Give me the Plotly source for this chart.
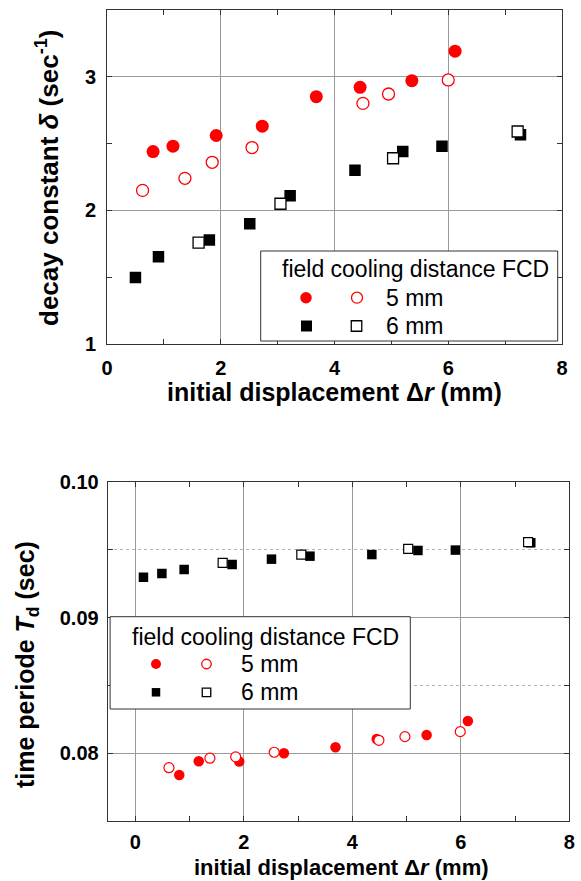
import plotly.graph_objects as go

# ---------------- data ----------------
# top panel: decay constant delta (1/s) vs initial displacement (mm)
x5_filled_top = [0.81, 1.16, 1.92, 2.73, 3.68, 4.45, 5.36, 6.12]
d5_filled = [2.44, 2.48, 2.56, 2.63, 2.85, 2.92, 2.97, 3.19]
x5_open_top = [0.625, 1.37, 1.85, 2.55, 4.50, 4.95, 6.00]
d5_open = [2.15, 2.24, 2.36, 2.47, 2.80, 2.87, 2.975]
x6_filled_top = [0.50, 0.905, 1.80, 2.51, 3.22, 4.36, 5.20, 5.89, 7.27]
d6_filled = [1.50, 1.655, 1.78, 1.90, 2.11, 2.30, 2.44, 2.48, 2.565]
x6_open_top = [1.61, 3.05, 5.03, 7.22]
d6_open = [1.76, 2.05, 2.39, 2.59]

# bottom panel: time period T_d (s) vs initial displacement (mm)
x6_filled_bot = [0.15, 0.49, 0.90, 1.785, 2.51, 3.22, 4.36, 5.21, 5.90, 7.29]
t6_filled = [0.09297, 0.09326, 0.09354, 0.09391, 0.09431, 0.09453, 0.09465, 0.09495, 0.09498, 0.09552]
x6_open_bot = [1.61, 3.06, 5.03, 7.24]
t6_open = [0.09403, 0.09465, 0.09507, 0.09557]
x5_filled_bot = [0.81, 1.17, 1.915, 2.74, 3.69, 4.45, 5.37, 6.13]
t5_filled = [0.07839, 0.07941, 0.07939, 0.0800, 0.08044, 0.08105, 0.08134, 0.08237]
x5_open_bot = [0.62, 1.375, 1.85, 2.56, 4.49, 4.97, 5.99]
t5_open = [0.07893, 0.07963, 0.07973, 0.08007, 0.08095, 0.08122, 0.08159]

x_ticks = [0, 2, 4, 6, 8]
top_y_ticks = [1, 2, 3]
bot_y_ticks = [0.08, 0.09, 0.10]
legend_title = "field cooling distance FCD"
legend_labels = ["5 mm", "6 mm"]

# ---------------- layout helpers ----------------
W, H = 581, 881
FONT = "Liberation Sans"
RED = "#ff0000"
BLACK = "#000000"
AXC = "#333333"
GRIDC = "#9a9a9a"


def px(x):
    return x / W


def py(y):
    return 1 - y / H


fig = go.Figure()

# top panel traces
fig.add_trace(go.Scatter(x=x5_filled_top, y=d5_filled, mode="markers", xaxis="x", yaxis="y",
                         marker=dict(symbol="circle", size=13, color=RED, line=dict(width=0))))
fig.add_trace(go.Scatter(x=x5_open_top, y=d5_open, mode="markers", xaxis="x", yaxis="y",
                         marker=dict(symbol="circle", size=12, color="white", line=dict(width=1.3, color=RED))))
fig.add_trace(go.Scatter(x=x6_filled_top, y=d6_filled, mode="markers", xaxis="x", yaxis="y",
                         marker=dict(symbol="square", size=11.5, color=BLACK, line=dict(width=0))))
fig.add_trace(go.Scatter(x=x6_open_top, y=d6_open, mode="markers", xaxis="x", yaxis="y",
                         marker=dict(symbol="square", size=11, color="white", line=dict(width=1.3, color=BLACK))))

# bottom panel traces
fig.add_trace(go.Scatter(x=x6_filled_bot, y=t6_filled, mode="markers", xaxis="x2", yaxis="y2",
                         marker=dict(symbol="square", size=9.5, color=BLACK, line=dict(width=0))))
fig.add_trace(go.Scatter(x=x6_open_bot, y=t6_open, mode="markers", xaxis="x2", yaxis="y2",
                         marker=dict(symbol="square", size=9, color="white", line=dict(width=1.2, color=BLACK))))
fig.add_trace(go.Scatter(x=x5_filled_bot, y=t5_filled, mode="markers", xaxis="x2", yaxis="y2",
                         marker=dict(symbol="circle", size=10.5, color=RED, line=dict(width=0))))
fig.add_trace(go.Scatter(x=x5_open_bot, y=t5_open, mode="markers", xaxis="x2", yaxis="y2",
                         marker=dict(symbol="circle", size=10, color="white", line=dict(width=1.2, color=RED))))

tickfont = dict(family=FONT, size=20, color="black", weight="bold")

common_axis = dict(showline=True, linecolor=AXC, linewidth=1, mirror="allticks",
                   ticks="inside", ticklen=5, tickcolor=AXC, tickwidth=1,
                   showgrid=True, gridcolor=GRIDC, gridwidth=1, zeroline=False,
                   tickfont=tickfont, automargin=False)

fig.update_layout(
    width=W, height=H,
    margin=dict(l=0, r=0, t=0, b=0),
    paper_bgcolor="white", plot_bgcolor="white",
    showlegend=False,
    xaxis=dict(domain=[px(107), px(562)], range=[0, 8], anchor="y",
               tickvals=x_ticks, ticklabelstandoff=6,
               minor=dict(ticks="inside", dtick=1, ticklen=5, tickcolor=AXC, showgrid=False),
               **common_axis),
    yaxis=dict(domain=[py(344.3), py(9.7)], range=[1, 3.5], anchor="x",
               tickvals=top_y_ticks, ticklabelstandoff=6,
               minor=dict(ticks="inside", dtick=0.5, ticklen=5, tickcolor=AXC, showgrid=False),
               **common_axis),
    xaxis2=dict(domain=[px(107.7), px(569.3)], range=[-0.509, 8.0], anchor="y2",
                tickvals=x_ticks, ticklabelstandoff=3,
                minor=dict(ticks="inside", dtick=1, ticklen=5, tickcolor=AXC, showgrid=False),
                **common_axis),
    yaxis2=dict(domain=[py(821), py(482)], range=[0.075, 0.100], anchor="x2",
                tickvals=bot_y_ticks, tickformat=".2f", ticklabelstandoff=4,
                minor=dict(ticks="inside", dtick=0.005, ticklen=5, tickcolor=AXC,
                           showgrid=True, gridcolor="#b5b5b5", griddash="dot", gridwidth=1),
                **common_axis),
)

shapes = []
annotations = []


def ann(text, x, y, size, xanchor="center", bold=False, angle=0):
    annotations.append(dict(text=text, x=px(x), y=py(y), xref="paper", yref="paper",
                            xanchor=xanchor, yanchor="middle", showarrow=False,
                            textangle=angle,
                            font=dict(family=FONT, size=size, color="black",
                                      weight="bold" if bold else "normal")))


def circle(cx, cy, d, filled, color):
    shapes.append(dict(type="circle", xref="paper", yref="paper", layer="above",
                       x0=px(cx - d / 2), x1=px(cx + d / 2), y0=py(cy + d / 2), y1=py(cy - d / 2),
                       fillcolor=color if filled else "white",
                       line=dict(color=color, width=0 if filled else 1.3)))


def square(cx, cy, s, filled, color):
    shapes.append(dict(type="rect", xref="paper", yref="paper", layer="above",
                       x0=px(cx - s / 2), x1=px(cx + s / 2), y0=py(cy + s / 2), y1=py(cy - s / 2),
                       fillcolor=color if filled else "white",
                       line=dict(color=color, width=0 if filled else 1.3)))


# axis titles
ann("<b>initial displacement Δ<i>r</i> (mm)</b>", 334, 392, 25, bold=True)
ann("<b>decay constant <i>δ</i> (sec<sup>-1</sup>)</b>", 47, 178, 26, bold=True, angle=-90)
ann("<b>initial displacement Δ<i>r</i> (mm)</b>", 341, 867, 22, bold=True)
ann("<b>time periode <i>T</i><sub>d</sub> (sec)</b>", 27, 665, 25, bold=True, angle=-90)

# top legend
shapes.append(dict(type="rect", xref="paper", yref="paper", layer="above",
                   x0=px(260.7), x1=px(557.7), y0=py(341), y1=py(251),
                   fillcolor="white", line=dict(color=AXC, width=1)))
ann(legend_title, 280, 269, 23, xanchor="left")
circle(306, 297.7, 11.5, True, RED)
circle(357, 297.7, 11, False, RED)
ann(legend_labels[0], 383.7, 297.7, 23, xanchor="left")
square(306.5, 326, 11, True, BLACK)
square(356.5, 326, 10.5, False, BLACK)
ann(legend_labels[1], 383.7, 326, 23, xanchor="left")

# bottom legend
shapes.append(dict(type="rect", xref="paper", yref="paper", layer="above",
                   x0=px(110.1), x1=px(410.3), y0=py(709), y1=py(616.7),
                   fillcolor="white", line=dict(color=AXC, width=1)))
ann(legend_title, 130, 637, 23, xanchor="left")
circle(156, 664, 10, True, RED)
circle(206.5, 664, 9.5, False, RED)
ann(legend_labels[0], 238.7, 664, 23, xanchor="left")
square(156, 692.3, 8.5, True, BLACK)
square(206.5, 692.3, 8.5, False, BLACK)
ann(legend_labels[1], 238.7, 692.3, 23, xanchor="left")

fig.update_layout(shapes=shapes, annotations=annotations)

fig.write_html("out.html", config={"displayModeBar": False},
               post_script="document.body.style.margin='0';document.body.style.overflow='hidden';")
